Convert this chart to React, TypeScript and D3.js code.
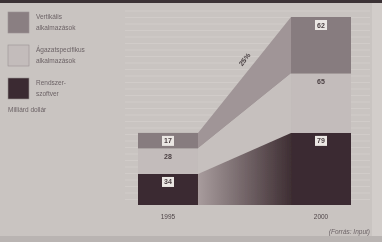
import React from 'react';
import * as d3 from 'd3';

// Milliárd dollár, alulról felfelé
const years = ['1995', '2000'];
const rendszer = [34, 79];
const agazat = [28, 65];
const vertikalis = [17, 62];
const growthLabel = '25%';

const legendItems = [
  { lines: ['Vertikális', 'alkalmazások'], color: '#8a7f82' },
  { lines: ['Ágazatspecifikus', 'alkalmazások'], color: '#c3bcbb' },
  { lines: ['Rendszer-', 'szoftver'], color: '#3b2b30' },
];

const W = 382;
const H = 242;

export default function App() {
  const x = d3.scaleBand<string>().domain(years).range([138, 351]).paddingInner(0.608).paddingOuter(0);
  const y = d3.scaleLinear().domain([0, 206]).range([205, 17]);
  const bw = x.bandwidth();

  const series = [
    { key: 'rendszer', values: rendszer, color: '#3b2b30', box: true },
    { key: 'agazat', values: agazat, color: '#c3bcbb', box: false },
    { key: 'vertikalis', values: vertikalis, color: '#877c7f', box: true },
  ];
  const stacked = series.map((s, i) =>
    s.values.map((v, j) => {
      const base = series.slice(0, i).reduce((acc, p) => acc + p.values[j], 0);
      return [base, base + v];
    })
  );

  // connecting bands between the bars
  const x0 = (x('1995') as number) + bw;
  const x1 = x('2000') as number;
  const band = d3
    .area<[number, number, number]>()
    .x((d) => d[0])
    .y0((d) => y(d[1]))
    .y1((d) => y(d[2]));
  const bandPts = (i: number): [number, number, number][] => [
    [x0, stacked[i][0][0], stacked[i][0][1]],
    [x1, stacked[i][1][0], stacked[i][1][1]],
  ];

  const stripes = d3.range(11, 206, 6.5);
  const mid = (i: number, j: number) => y(stacked[i][j][1]);

  const gx0 = (x0 + x1) / 2 + 2;
  const gy0 = (y(stacked[2][0][1]) + y(stacked[2][1][1])) / 2 - 14;

  return (
    <svg width={W} height={H} style={{ position: 'absolute', left: 0, top: 0 }}>
      <defs>
        <linearGradient id="darkFade" x1="0" x2="1" y1="0" y2="0">
          <stop offset="0%" stopColor="#a89c9d" />
          <stop offset="100%" stopColor="#3f2f34" />
        </linearGradient>
        <filter id="soft">
          <feGaussianBlur stdDeviation="0.45" />
        </filter>
      </defs>
      <rect width={W} height={H} fill="#c9c4c1" />
      <g filter="url(#soft)">
        <rect x={0} y={0} width={W} height={3} fill="#3a3234" />
        <rect x={372} y={3} width={10} height={H} fill="#d2cdca" />
        <rect x={0} y={236} width={W} height={6} fill="#b9b4b2" />
        {stripes.map((s) => (
          <line key={s} x1={125} x2={370} y1={s} y2={s} stroke="#d1ccc9" strokeWidth={1} />
        ))}

        <path d={band(bandPts(2)) as string} fill="#a09597" />
        <path d={band(bandPts(1)) as string} fill="#c6c0be" />
        <path d={band(bandPts(0)) as string} fill="url(#darkFade)" />

        {series.map((s, i) =>
          years.map((yr, j) => (
            <rect
              key={s.key + yr}
              x={x(yr)}
              y={y(stacked[i][j][1])}
              width={bw}
              height={y(stacked[i][j][0]) - y(stacked[i][j][1])}
              fill={s.color}
            />
          ))
        )}

        {series.map((s, i) =>
          years.map((yr, j) => {
            const cx = (x(yr) as number) + bw / 2;
            const top = mid(i, j) + 3;
            return (
              <g key={'l' + s.key + yr}>
                {s.box && <rect x={cx - 6} y={top} width={12} height={10} fill="#ebe7e4" />}
                <text
                  x={cx}
                  y={top + 7.5}
                  textAnchor="middle"
                  fontFamily="Liberation Sans, Arial, sans-serif"
                  fontSize={7}
                  fontWeight="bold"
                  fill="#4a3f42"
                >
                  {s.values[j]}
                </text>
              </g>
            );
          })
        )}

        <text
          x={gx0}
          y={gy0}
          transform={`rotate(-52 ${gx0} ${gy0})`}
          textAnchor="middle"
          fontFamily="Liberation Sans, Arial, sans-serif"
          fontSize={7}
          fontWeight="bold"
          fill="#4a4144"
        >
          {growthLabel}
        </text>

        {years.map((yr) => (
          <text
            key={'t' + yr}
            x={(x(yr) as number) + bw / 2}
            y={219}
            textAnchor="middle"
            fontFamily="Liberation Sans, Arial, sans-serif"
            fontSize={6.5}
            fill="#4e4548"
          >
            {yr}
          </text>
        ))}

        {legendItems.map((it, i) => (
          <g key={it.lines[0]} transform={`translate(8, ${12 + i * 33})`}>
            <rect width={21} height={21} fill={it.color} stroke="#9a9193" strokeWidth={0.6} />
            {it.lines.map((ln, k) => (
              <text
                key={ln}
                x={28}
                y={7 + k * 11}
                fontFamily="Liberation Sans, Arial, sans-serif"
                fontSize={6.5}
                fill="#6c6366"
              >
                {ln}
              </text>
            ))}
          </g>
        ))}
        <text x={8} y={112} fontFamily="Liberation Sans, Arial, sans-serif" fontSize={6.5} fill="#6c6366">
          Milliárd dollár
        </text>
        <text
          x={370}
          y={234}
          textAnchor="end"
          fontFamily="Liberation Sans, Arial, sans-serif"
          fontSize={6.5}
          fontStyle="italic"
          fill="#6c6366"
        >
          (Forrás: Input)
        </text>
      </g>
    </svg>
  );
}
